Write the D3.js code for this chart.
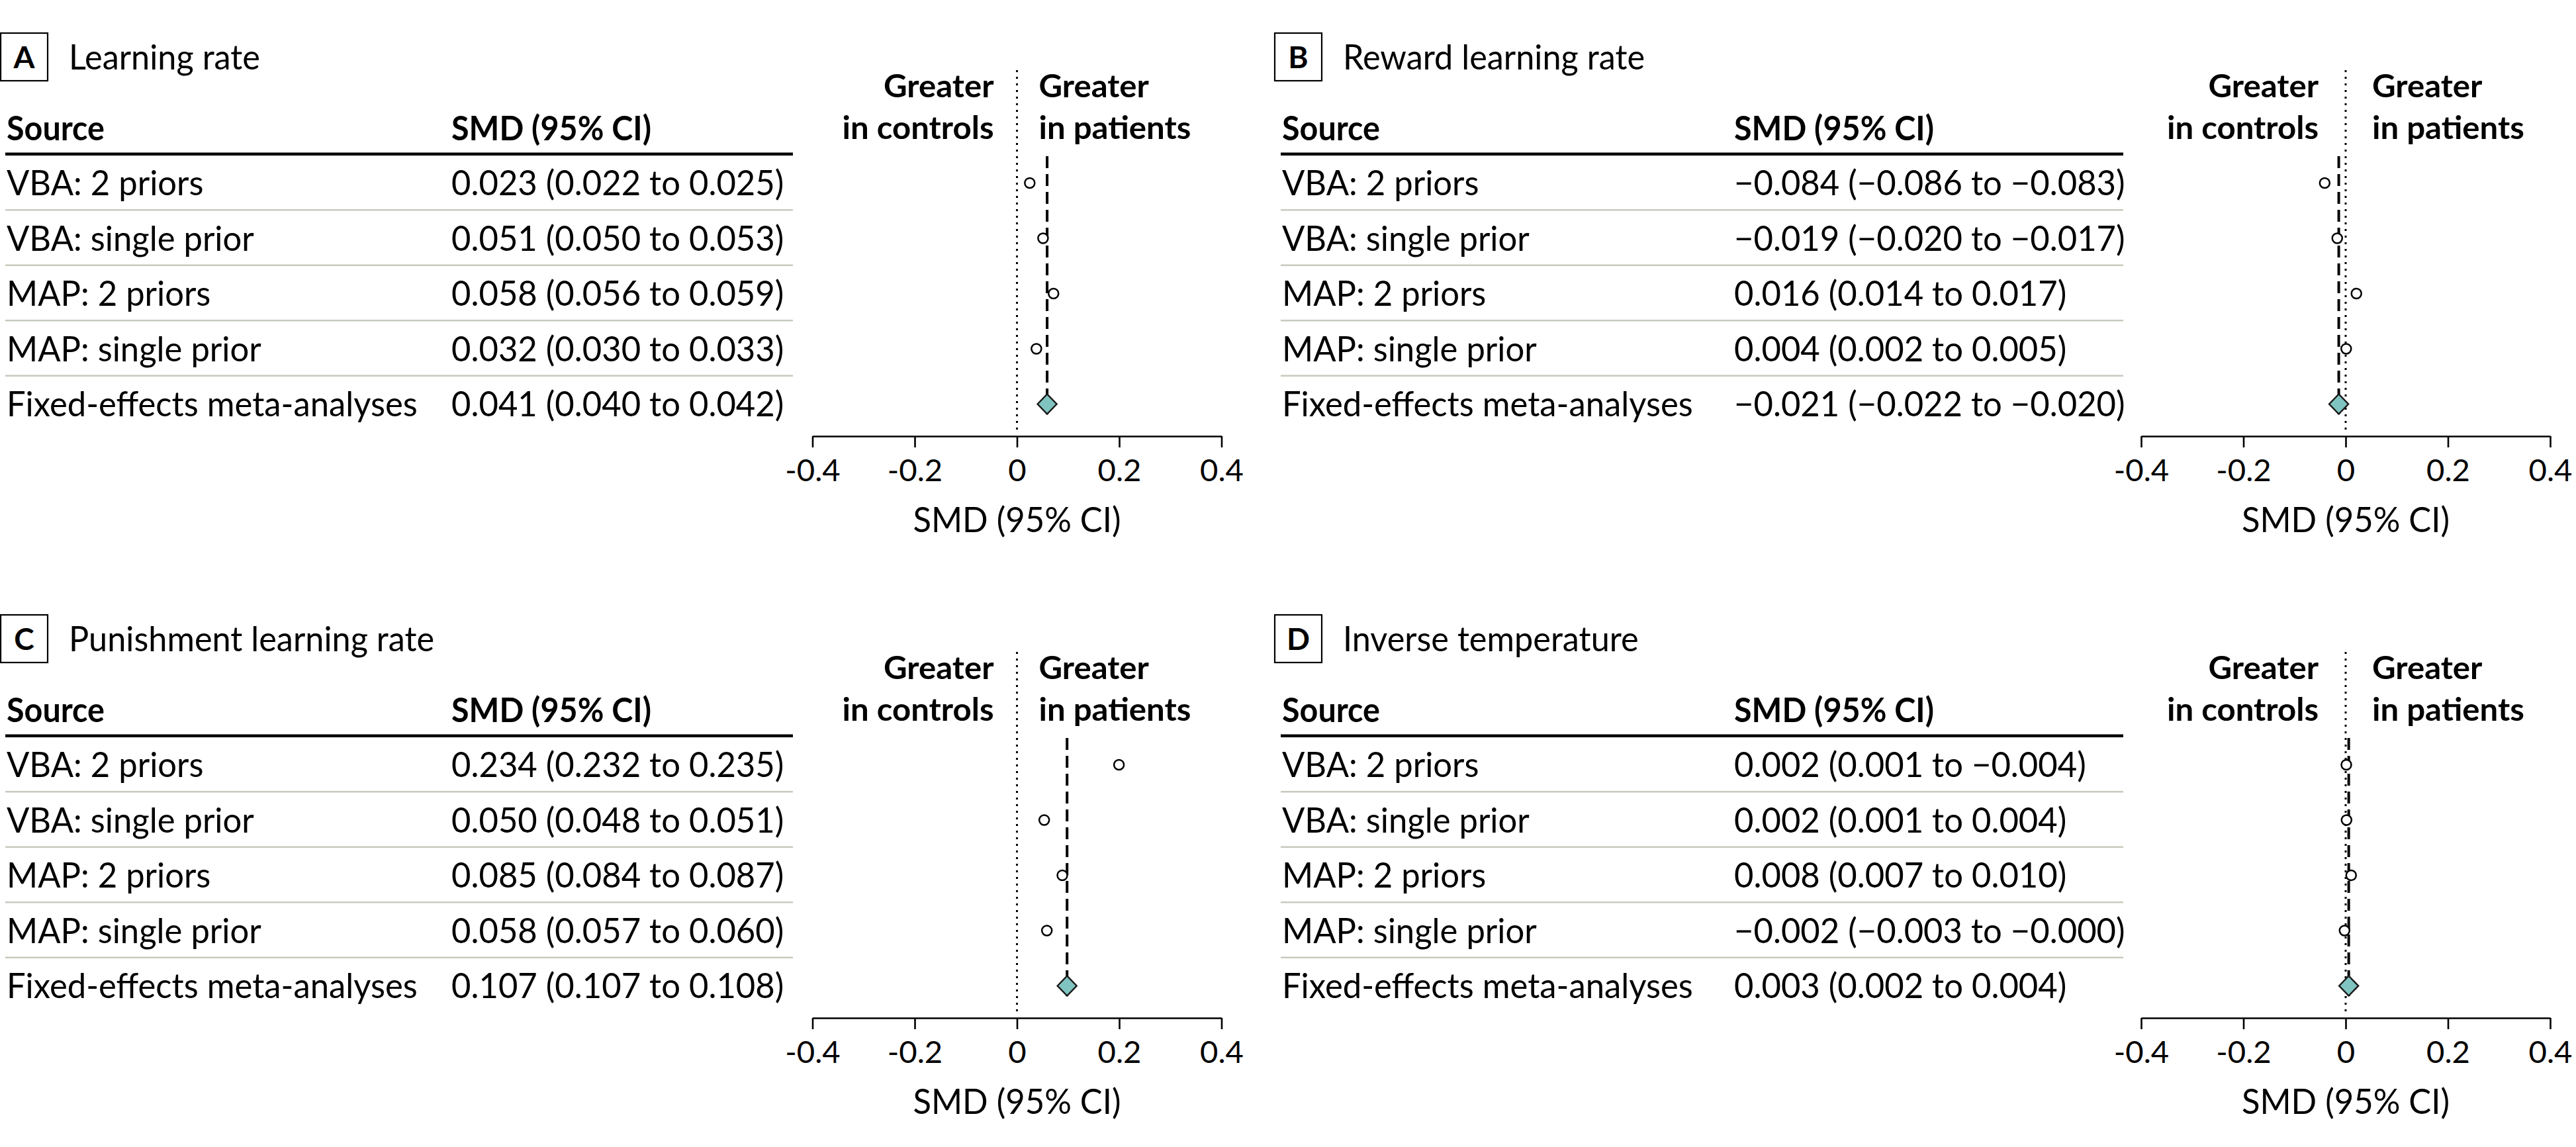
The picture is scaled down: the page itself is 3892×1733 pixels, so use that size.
<!DOCTYPE html>
<html><head><meta charset="utf-8">
<script src="https://cdn.jsdelivr.net/npm/d3@7"></script>
<style>html,body{margin:0;padding:0;background:#fff;} svg{display:block;}</style>
</head><body>
<svg id="chart" width="3892" height="1733"></svg>
<script>
// ---------------- DATA ----------------
const panelLetters = ["A", "B", "C", "D"];
const panelTitles = ["Learning rate", "Reward learning rate", "Punishment learning rate", "Inverse temperature"];
const sources = ["VBA: 2 priors", "VBA: single prior", "MAP: 2 priors", "MAP: single prior", "Fixed-effects meta-analyses"];

const smdLabelsA = ["0.023 (0.022 to 0.025)", "0.051 (0.050 to 0.053)", "0.058 (0.056 to 0.059)", "0.032 (0.030 to 0.033)", "0.041 (0.040 to 0.042)"];
const smdLabelsB = ["\u22120.084 (\u22120.086 to \u22120.083)", "\u22120.019 (\u22120.020 to \u22120.017)", "0.016 (0.014 to 0.017)", "0.004 (0.002 to 0.005)", "\u22120.021 (\u22120.022 to \u22120.020)"];
const smdLabelsC = ["0.234 (0.232 to 0.235)", "0.050 (0.048 to 0.051)", "0.085 (0.084 to 0.087)", "0.058 (0.057 to 0.060)", "0.107 (0.107 to 0.108)"];
const smdLabelsD = ["0.002 (0.001 to \u22120.004)", "0.002 (0.001 to 0.004)", "0.008 (0.007 to 0.010)", "\u22120.002 (\u22120.003 to \u22120.000)", "0.003 (0.002 to 0.004)"];

// plotted positions
const pointsA = [0.025, 0.051, 0.0715, 0.038];
const pointsB = [-0.041, -0.0165, 0.021, 0.001];
const pointsC = [0.1995, 0.0533, 0.0887, 0.0585];
const pointsD = [0.0013, 0.0017, 0.0107, -0.0022];
const pooled = [0.059, -0.0135, 0.098, 0.006];

const tickValues = [-0.4, -0.2, 0, 0.2, 0.4];
const tickLabels = ["-0.4", "-0.2", "0", "0.2", "0.4"];
const axisTitle = "SMD (95% CI)";
const colHeaders = ["Source", "SMD (95% CI)"];
const sideLabels = [["Greater", "in controls"], ["Greater", "in patients"]];

// ---------------- LAYOUT / STYLE ----------------
const FONT = "Lato, 'Noto Sans', 'DejaVu Sans', sans-serif";
const panels = [
  {tableX: 8,    colX: 682,  tableEnd: 1198, xRange: [1227.5, 1845.5], dy: 0,   gL: -35, gR: 33, boxX: 1},
  {tableX: 1935, colX: 2620, tableEnd: 3208, xRange: [3235, 3853],     dy: 0,   gL: -41, gR: 40, boxX: 1926},
  {tableX: 8,    colX: 682,  tableEnd: 1198, xRange: [1227.5, 1845.5], dy: 879, gL: -35, gR: 33, boxX: 1},
  {tableX: 1935, colX: 2620, tableEnd: 3208, xRange: [3235, 3853],     dy: 879, gL: -41, gR: 40, boxX: 1926}
];
const labelSets = [smdLabelsA, smdLabelsB, smdLabelsC, smdLabelsD];
const pointSets = [pointsA, pointsB, pointsC, pointsD];

const svg = d3.select("#chart");
svg.append("rect").attr("width", 3892).attr("height", 1733).attr("fill", "#fff");

// text roles, horizontally fitted to the reference's measured widths
const roles = {
  body:  {size: 51.5, weight: 400, ref: "Fixed-effects meta-analyses", target: 621},
  head:  {size: 51.5, weight: 700, ref: "Source", target: 148},
  great: {size: 47,   weight: 700, ref: "in controls", target: 229},
  tick:  {size: 47,   weight: 400, ref: "-0.2", target: 83.4},
  title: {size: 51.5, weight: 400, ref: "Learning rate", target: 289},
  letter:{size: 46,   weight: 700, ref: null}
};
Object.values(roles).forEach(r => {
  if (!r.ref) { r.sx = 1; return; }
  const t = svg.append("text").attr("font-family", FONT).attr("font-size", r.size)
    .attr("font-weight", r.weight).text(r.ref);
  const w = t.node().getComputedTextLength();
  t.remove();
  r.sx = w > 0 ? Math.max(0.75, Math.min(1.25, r.target / w)) : 1;
});

function txt(g, str, x, y, role, anchor) {
  const r = roles[role];
  return g.append("text")
    .attr("transform", `translate(${x},${y}) scale(${r.sx},1)`)
    .attr("font-family", FONT).attr("font-size", r.size).attr("font-weight", r.weight)
    .attr("text-anchor", anchor || "start").attr("fill", "#000").text(str);
}

panels.forEach((p, pi) => {
  const g = svg.append("g").attr("transform", `translate(0,${p.dy})`);
  const x = d3.scaleLinear().domain([-0.4, 0.4]).range(p.xRange);
  const y = d3.scalePoint().domain(sources).range([276.5, 610.5]);
  const x0 = x(0);

  // panel letter box + title
  g.append("rect").attr("x", p.boxX).attr("y", 50).attr("width", 71).attr("height", 72)
    .attr("fill", "none").attr("stroke", "#000").attr("stroke-width", 2.2);
  txt(g, panelLetters[pi], p.boxX + 35.5, 103, "letter", "middle");
  txt(g, panelTitles[pi], p.boxX + 103, 105, "title");

  // table header
  txt(g, colHeaders[0], p.tableX + 2, 211.7, "head");
  txt(g, colHeaders[1], p.colX, 211.7, "head");
  g.append("line").attr("x1", p.tableX).attr("x2", p.tableEnd).attr("y1", 232.7).attr("y2", 232.7)
    .attr("stroke", "#000").attr("stroke-width", 4.5);

  // rows
  sources.forEach((s, i) => {
    const yc = y(s);
    txt(g, s, p.tableX + 2, yc + 18.5, "body");
    txt(g, labelSets[pi][i], p.colX, yc + 18.5, "body");
    if (i < sources.length - 1) {
      const ys = yc + 40.75;
      g.append("line").attr("x1", p.tableX).attr("x2", p.tableEnd).attr("y1", ys).attr("y2", ys)
        .attr("stroke", "#c6cbbd").attr("stroke-width", 2.6);
    }
  });

  // side labels
  txt(g, sideLabels[0][0], x0 + p.gL, 146.5, "great", "end");
  txt(g, sideLabels[0][1], x0 + p.gL, 210, "great", "end");
  txt(g, sideLabels[1][0], x0 + p.gR, 146.5, "great", "start");
  txt(g, sideLabels[1][1], x0 + p.gR, 210, "great", "start");

  // null line (dotted)
  g.append("line").attr("x1", x0).attr("x2", x0).attr("y1", 106).attr("y2", 650)
    .attr("stroke", "#000").attr("stroke-width", 3).attr("stroke-dasharray", "3,7");

  // pooled estimate line (dashed)
  const xp = x(pooled[pi]);
  g.append("line").attr("x1", xp).attr("x2", xp).attr("y1", 236).attr("y2", 626)
    .attr("stroke", "#000").attr("stroke-width", 4).attr("stroke-dasharray", "18,9");

  // study points
  g.selectAll("circle.pt").data(pointSets[pi]).enter().append("circle")
    .attr("class", "pt")
    .attr("cx", d => x(d)).attr("cy", (d, i) => y(sources[i]))
    .attr("r", 7.5).attr("fill", "#fff").attr("stroke", "#000").attr("stroke-width", 2.5);

  // pooled diamond
  const yd = y(sources[4]);
  g.append("path")
    .attr("d", `M${xp - 14.5},${yd} L${xp},${yd - 15} L${xp + 14.5},${yd} L${xp},${yd + 15} Z`)
    .attr("fill", "#80c4c1").attr("stroke", "#1a1a1a").attr("stroke-width", 2.5)
    .attr("stroke-linejoin", "miter");

  // axis
  const ax = g.append("g").attr("transform", "translate(0,659)")
    .call(d3.axisBottom(x).tickValues(tickValues).tickSizeOuter(0).tickSizeInner(17)
      .tickFormat((d, i) => tickLabels[i]));
  ax.select(".domain").attr("stroke", "#000").attr("stroke-width", 2.6);
  ax.selectAll(".tick line").attr("stroke", "#000").attr("stroke-width", 2.6);
  ax.selectAll(".tick text")
    .attr("y", null).attr("dy", null)
    .attr("transform", `translate(0,67.7) scale(${roles.tick.sx},1)`)
    .attr("font-family", FONT).attr("font-size", roles.tick.size).attr("font-weight", 400)
    .attr("fill", "#000");
  ax.attr("font-family", null).attr("font-size", null);

  txt(g, axisTitle, x0, 803.5, "body", "middle");
});
</script>
</body></html>
